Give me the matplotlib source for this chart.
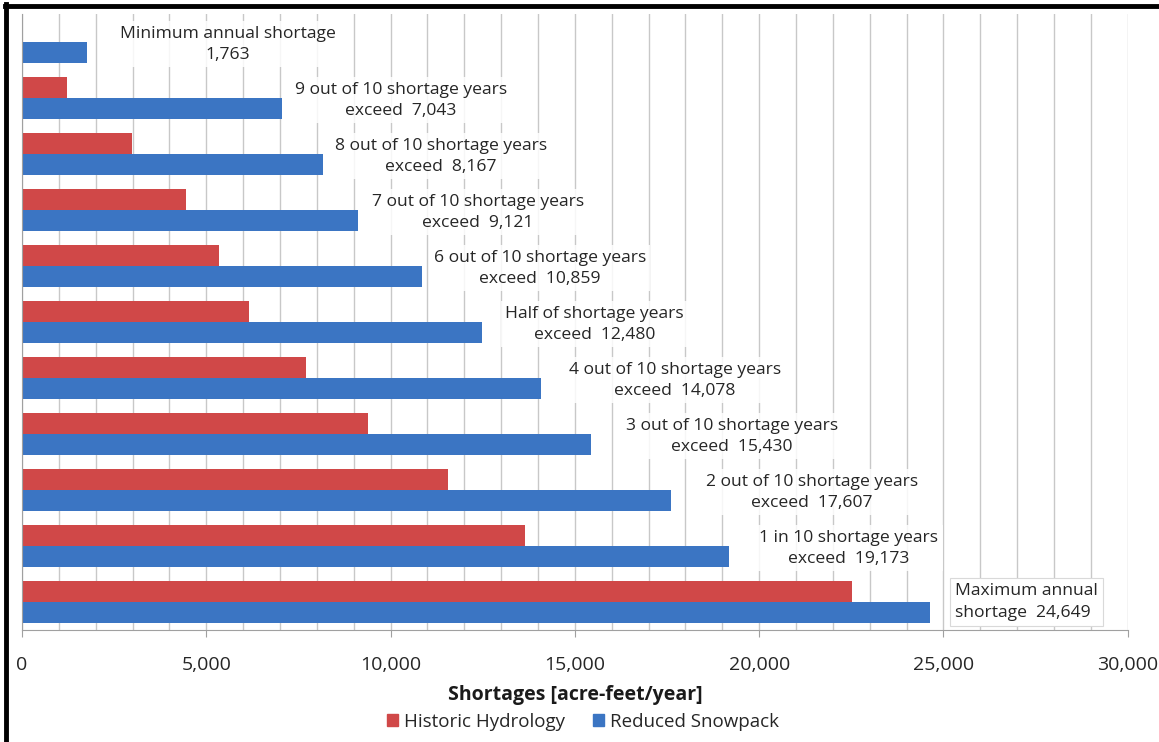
import numpy as np
import matplotlib.pyplot as plt
from matplotlib.patches import Patch
from matplotlib.lines import Line2D

plt.rcParams['font.family'] = ['Open Sans', 'DejaVu Sans']

# shortage exceedance levels, top to bottom
historic = [40, 1220, 2985, 4450, 5340, 6160, 7700, 9385, 11555, 13640, 22510]
snowpack = [1763, 7043, 8167, 9121, 10859, 12480, 14078, 15430, 17607, 19173, 24649]
captions = ['Minimum annual shortage', '9 out of 10 shortage years',
            '8 out of 10 shortage years', '7 out of 10 shortage years',
            '6 out of 10 shortage years', 'Half of shortage years',
            '4 out of 10 shortage years', '3 out of 10 shortage years',
            '2 out of 10 shortage years', '1 in 10 shortage years',
            'Maximum annual']
prefixes = ['', 'exceed  ', 'exceed  ', 'exceed  ', 'exceed  ', 'exceed  ',
            'exceed  ', 'exceed  ', 'exceed  ', 'exceed  ', 'shortage  ']
# where each annotation is centred (acre-feet)
label_x = [5590, 10280, 11370, 12370, 14050, 15540, 17710, 19260, 21430, 22430, 27250]

red = '#D04848'
blue = '#3B75C3'

fig = plt.figure(figsize=(11.59, 7.42), dpi=100)
ax = fig.add_axes([0.019, 0.151, 0.954, 0.83])

y = np.arange(len(snowpack))
h = 0.38
ax.barh(y - h / 2, historic, height=h, color=red, zorder=2)
ax.barh(y + h / 2, snowpack, height=h, color=blue, zorder=2)

for i, v in enumerate(snowpack):
    txt = f'{captions[i]}\n{prefixes[i]}{v:,}'
    if i == len(snowpack) - 1:
        ax.text(label_x[i], i, txt, ha='center', va='center', multialignment='left',
                fontsize=12.6, color='#262626', linespacing=1.45, zorder=4,
                bbox=dict(boxstyle='square,pad=0.3', fc='white', ec='#D9D9D9', lw=0.8))
    else:
        ax.text(label_x[i], i + 0.04, txt, ha='center', va='center',
                fontsize=12.6, color='#262626', linespacing=1.45, zorder=4,
                bbox=dict(boxstyle='square,pad=0.25', fc='white', ec='none', alpha=0.85))

ax.set_xlim(0, 30000)
ax.set_ylim(len(snowpack) - 0.5, -0.5)
ax.set_xticks(np.arange(0, 30001, 5000))
ax.set_xticklabels([f'{t:,}' for t in range(0, 30001, 5000)], fontsize=14, color='#262626')
ax.set_xticks(np.arange(0, 30001, 1000), minor=True)
ax.set_yticks([])
ax.grid(axis='x', which='both', color='#C8C8C8', lw=1, zorder=0)
ax.tick_params(axis='x', which='major', length=5, color='#A0A0A0', pad=14)
ax.tick_params(axis='x', which='minor', length=0)
for s in ['top', 'right']:
    ax.spines[s].set_visible(False)
for s in ['left', 'bottom']:
    ax.spines[s].set_color('#A0A0A0')
ax.set_xlabel('Shortages [acre-feet/year]', fontsize=14, fontweight='bold',
              color='#1a1a1a', labelpad=8)

handles = [Patch(color=red, label='Historic Hydrology'),
           Patch(color=blue, label='Reduced Snowpack')]
fig.legend(handles=handles, loc='center', bbox_to_anchor=(0.503, 0.027), ncol=2,
           frameon=False, fontsize=13.5, handlelength=0.6, handleheight=0.6,
           handletextpad=0.3, columnspacing=1.5, labelcolor='#262626')

# black frame on the top and left edges
fig.add_artist(Line2D([0.0055, 0.0055], [0, 0.994], transform=fig.transFigure,
                      color='black', lw=3.5))
fig.add_artist(Line2D([0.004, 1], [0.992, 0.992], transform=fig.transFigure,
                      color='black', lw=3.5))

fig.savefig('out.png', dpi=100)
